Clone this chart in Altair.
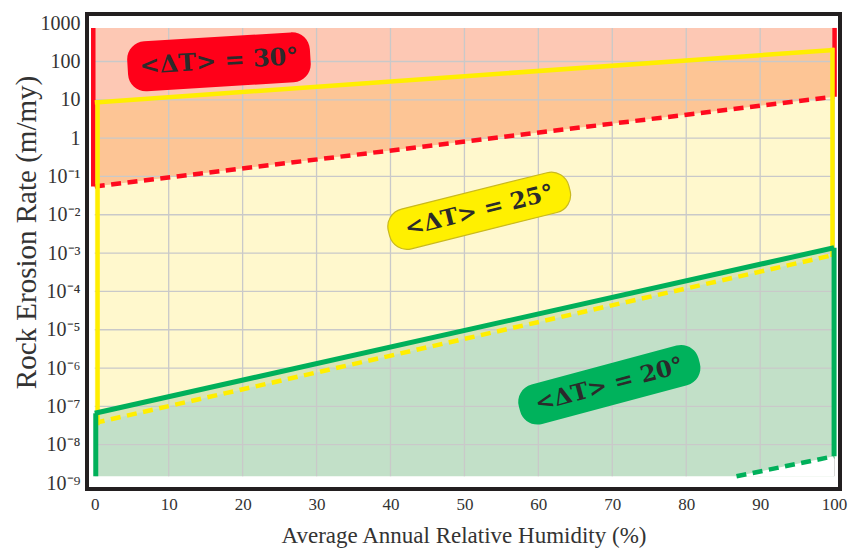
import json

import altair as alt
import pandas as pd

# Relative-humidity ends of every ΔT envelope (%)
rh_ends = [0, 100]

# Ceiling of the envelopes and floor of the lowest one (m/my)
rate_ceiling = 750
rate_floor = 1.5e-9

# <ΔT> = 30°: lower boundary (dashed) at 0 % and 100 %
dt30_low = [0.055, 12]
# <ΔT> = 25°: upper (solid) and lower (dashed) boundaries
dt25_high = [8.5, 200]
dt25_low = [3.7e-8, 9e-4]
# <ΔT> = 20°: upper boundary (solid)
dt20_high = [6.6e-8, 1.38e-3]
# <ΔT> = 20°: lower boundary (dashed), only at the humid end
dt20_low_rh = [86.8, 100]
dt20_low = [1.5e-9, 5e-9]

# Envelope labels and where they sit
badge_text = ["<ΔT> = 30°", "<ΔT> = 25°", "<ΔT> = 20°"]
badge_rh = [16.8, 52.0, 69.6]
badge_rate = [98, 0.0127, 3.66e-7]

# Axis ticks
x_ticks = [0, 10, 20, 30, 40, 50, 60, 70, 80, 90, 100]
y_ticks = [1e-9, 1e-8, 1e-7, 1e-6, 1e-5, 1e-4, 1e-3, 1e-2, 1e-1, 1, 10, 100, 1000]
y_tick_labels = ["10⁻⁹", "10⁻⁸", "10⁻⁷", "10⁻⁶", "10⁻⁵", "10⁻⁴", "10⁻³",
                 "10⁻²", "10⁻¹", "1", "10", "100", "1000"]

RED = "#FF0A1E"
YELLOW = "#FFEE00"
GREEN = "#00B05A"
INK = "#231F20"
SERIF = "Liberation Serif"

x_scale = alt.Scale(domain=[-1.05, 100.8], nice=False, zero=False)
y_scale = alt.Scale(type="log", domain=[6.98e-10, 1734], nice=False)

x_axis = alt.Axis(
    values=x_ticks, grid=False, ticks=False, domain=False,
    labelFont=SERIF, labelFontSize=17, labelColor="#333333", labelPadding=7,
    title="Average Annual Relative Humidity (%)", titleFont=SERIF,
    titleFontSize=23, titleFontWeight="normal", titleColor="#333333",
    titleBaseline="alphabetic", titleY=53,
)
y_axis = alt.Axis(
    values=y_ticks, grid=False, ticks=False, domain=False,
    labelExpr=json.dumps(y_tick_labels, ensure_ascii=False)
    + "[round(log(datum.value) / LN10) + 9]",
    labelFont=SERIF, labelFontSize=20, labelColor="#333333", labelPadding=7,
    title="Rock Erosion Rate (m/my)", titleFont=SERIF, titleFontSize=29,
    titleFontWeight="normal", titleColor="#333333", titleAngle=270,
    titleAlign="center", titleBaseline="alphabetic", titleX=-52, titleY=218,
)


def X(field):
    return alt.X(field, type="quantitative", scale=x_scale, axis=x_axis)


def Y(field):
    return alt.Y(field, type="quantitative", scale=y_scale, axis=y_axis)


def band(lo, hi, color, rh=rh_ends):
    df = pd.DataFrame({"rh": rh, "lo": lo, "hi": hi})
    return alt.Chart(df).mark_area(color=color, opacity=1, strokeWidth=0).encode(
        x=X("rh"), y=Y("lo"), y2="hi:Q"
    )


def boundary(values, color, width=4.5, dash=None, rh=rh_ends):
    df = pd.DataFrame({"rh": rh, "rate": values})
    props = dict(color=color, strokeWidth=width, strokeCap="butt")
    if dash:
        props["strokeDash"] = dash
    return alt.Chart(df).mark_line(**props).encode(x=X("rh"), y=Y("rate"))


def sides(lo, hi, color, offsets, width=4.5, cap="butt"):
    layers = []
    for i, off in enumerate(offsets):
        df = pd.DataFrame({"rh": [rh_ends[i]], "lo": [lo[i]], "hi": [hi[i]]})
        layers.append(
            alt.Chart(df)
            .mark_rule(color=color, strokeWidth=width, xOffset=off, strokeCap=cap)
            .encode(x=X("rh"), y=Y("lo"), y2="hi:Q")
        )
    return layers


def pill_path(length, height, radius):
    # rounded rectangle in the [-1, 1] symbol box, long side along x
    s = 2.0 / length
    w, h, r = 1.0, height * s / 2, radius * s
    k = 0.5523 * r
    f = lambda v: f"{v:.4f}"
    return (
        f"M{f(-w + r)},{f(-h)} L{f(w - r)},{f(-h)} "
        f"C{f(w - r + k)},{f(-h)} {f(w)},{f(-h + r - k)} {f(w)},{f(-h + r)} "
        f"L{f(w)},{f(h - r)} "
        f"C{f(w)},{f(h - r + k)} {f(w - r + k)},{f(h)} {f(w - r)},{f(h)} "
        f"L{f(-w + r)},{f(h)} "
        f"C{f(-w + r - k)},{f(h)} {f(-w)},{f(h - r + k)} {f(-w)},{f(h - r)} "
        f"L{f(-w)},{f(-h + r)} "
        f"C{f(-w)},{f(-h + r - k)} {f(-w + r - k)},{f(-h)} {f(-w + r)},{f(-h)} Z"
    )


def badge(i, length, height, radius, angle, fill, stroke=None, font_size=24):
    df = pd.DataFrame(
        {"rh": [badge_rh[i]], "rate": [badge_rate[i]], "label": [badge_text[i]]}
    )
    base = alt.Chart(df).encode(x=X("rh"), y=Y("rate"))
    shape = base.mark_point(
        shape=pill_path(length, height, radius),
        size=length ** 2,
        filled=True,
        color=fill,
        opacity=1,
        angle=angle,
        stroke=stroke if stroke else fill,
        strokeWidth=1.2 if stroke else 0,
    )
    text = base.mark_text(
        angle=angle, font="DejaVu Serif", fontWeight="bold", fontSize=font_size,
        color="#2B2B2B", align="center", baseline="middle",
    ).encode(text="label:N")
    return [shape, text]


ceiling = [rate_ceiling, rate_ceiling]
floor = [rate_floor, rate_floor]

fills = [
    band(dt30_low, ceiling, "#FDC8B4"),     # ΔT = 30° only
    band(dt25_low, dt25_high, "#FFF8CD"),   # ΔT = 25° only
    band(dt30_low, dt25_high, "#FDC595"),   # 30° and 25° overlap
    band(floor, dt20_high, "#C2E0C8"),      # ΔT = 20° only
    band(dt25_low, dt20_high, "#D9E6B7"),   # 25° and 20° overlap
]

grid_v = alt.Chart(
    pd.DataFrame({"rh": x_ticks[1:], "lo": rate_floor, "hi": rate_ceiling})
).mark_rule(color="#C9C9C9", strokeWidth=1.3).encode(x=X("rh"), y=Y("lo"), y2="hi:Q")

grid_h = alt.Chart(
    pd.DataFrame({"rate": [v for v in y_ticks if 1e-8 <= v <= 100],
                  "lo": rh_ends[0], "hi": rh_ends[1]})
).mark_rule(color="#C9C9C9", strokeWidth=1.3).encode(x=X("lo"), x2="hi:Q", y=Y("rate"))

# the 20° envelope stops at its dashed floor on the humid side
cutout = band([rate_floor, rate_floor], dt20_low, "white", rh=dt20_low_rh)

lines = (
    sides(dt30_low, ceiling, RED, [-1.5, 0.5])
    + [boundary(dt30_low, RED, dash=[10, 6.5])]
    + sides(dt25_low, dt25_high, YELLOW, [2.8, -1.6], cap="square")
    + [boundary(dt25_high, YELLOW), boundary(dt25_low, YELLOW, dash=[10, 6.5])]
    + sides([rate_floor, dt20_low[-1]], dt20_high, GREEN, [1, 0], width=5)
    + [boundary(dt20_high, GREEN, width=5),
       boundary(dt20_low, GREEN, dash=[10, 6.5], rh=dt20_low_rh)]
)

badges = (
    badge(0, 183, 50, 18, 356.5, "#FF0019")
    + badge(1, 186, 41, 18, 346, "#FFF000", stroke="#C9B91E", font_size=23)
    + badge(2, 186, 41, 18, 345, "#00B25C", font_size=23)
)

chart = (
    alt.layer(*fills, grid_v, grid_h, cutout, *lines, *badges)
    .properties(
        width=753,
        height=475,
        autosize="none",
        padding={"left": 87, "top": 14, "right": 12, "bottom": 63},
        background="white",
    )
    .configure_view(stroke=INK, strokeWidth=4)
)

chart.save("out.html", embed_options={"renderer": "svg", "actions": False})
